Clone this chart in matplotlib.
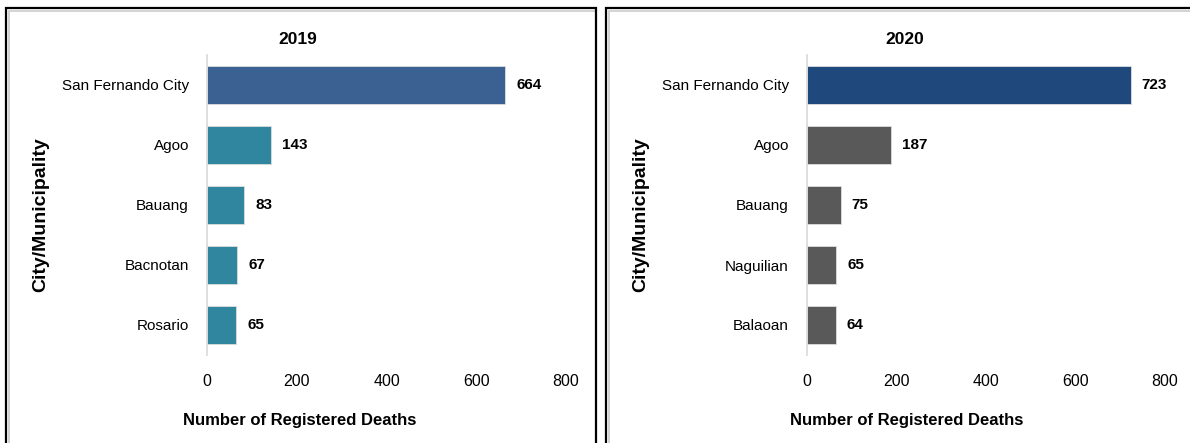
import matplotlib
matplotlib.use('Agg')
import matplotlib.pyplot as plt
from matplotlib import font_manager
from matplotlib.patches import Rectangle

# data
cities_2019 = ['San Fernando City', 'Agoo', 'Bauang', 'Bacnotan', 'Rosario']
deaths_2019 = [664, 143, 83, 67, 65]
cities_2020 = ['San Fernando City', 'Agoo', 'Bauang', 'Naguilian', 'Balaoan']
deaths_2020 = [723, 187, 75, 65, 64]
xticks = [0, 200, 400, 600, 800]

names = {f.name for f in font_manager.fontManager.ttflist}
narrow = 'Liberation Sans Narrow' if 'Liberation Sans Narrow' in names else 'Liberation Sans'
plt.rcParams['font.family'] = [narrow, 'DejaVu Sans']

W, H = 1190, 443
fig = plt.figure(figsize=(W / 100, H / 100), dpi=100)


def px(x, y):
    return x / W, 1 - y / H


def panel(cities, deaths, colors, x0, x800, box_left, box_right, title, title_x):
    left = x0 / W
    width = (x800 - x0) / W
    bottom = 1 - 355 / H
    height = 300 / H
    ax = fig.add_axes([left, bottom, width, height])
    pos = list(range(len(cities)))
    ax.barh(pos, deaths, height=0.63, color=colors, edgecolor='#dddddd', linewidth=0.6)
    ax.set_ylim(len(cities) - 0.5, -0.5)
    ax.set_xlim(0, 800)
    ax.set_xticks(xticks)
    ax.set_yticks(pos)
    ax.set_yticklabels(cities, fontsize=11)
    ax.tick_params(length=0)
    ax.tick_params(axis='y', pad=13)
    ax.tick_params(axis='x', pad=14, labelsize=11.5)
    for s in ['top', 'right', 'bottom']:
        ax.spines[s].set_visible(False)
    ax.spines['left'].set_color('#d9d9d9')
    ax.spines['left'].set_linewidth(1.2)
    ax.set_facecolor('none')
    for p, v in zip(pos, deaths):
        ax.annotate(str(v), (v, p), xytext=(8, 0), textcoords='offset points',
                    va='center', ha='left', fontsize=11, fontweight='bold')

    tx, ty = px(title_x, 40)
    fig.text(tx, ty, title, ha='center', va='center', fontsize=12.5, fontweight='bold')
    lx, ly = px(title_x + 2, 420)
    fig.text(lx, ly, 'Number of Registered Deaths', ha='center', va='center',
             fontsize=12, fontweight='bold')
    yx, yy = px(box_left + 35, 215)
    fig.text(yx, yy, 'City/Municipality', ha='center', va='center', rotation=90,
             fontsize=14, fontweight='bold', family=['Liberation Sans', 'DejaVu Sans'])

    # panel frame with a light inner shadow
    bx, by = px(box_left, 460)
    fig.patches.append(Rectangle((bx + 2.5 / W, by), (box_right - box_left - 3) / W,
                                 (460 - 11) / H, transform=fig.transFigure,
                                 fill=False, edgecolor='#cccccc', linewidth=1.2))
    fig.patches.append(Rectangle((bx, by), (box_right - box_left) / W, (460 - 8) / H,
                                 transform=fig.transFigure, fill=False,
                                 edgecolor='black', linewidth=1.6))
    return ax


panel(cities_2019, deaths_2019, ['#3a6191'] + ['#31869f'] * 4,
      207, 566, 6, 596, '2019', 298)
panel(cities_2020, deaths_2020, ['#1f497d'] + ['#595959'] * 4,
      807, 1165, 606, 1230, '2020', 905)

fig.savefig('out.png', dpi=100)
